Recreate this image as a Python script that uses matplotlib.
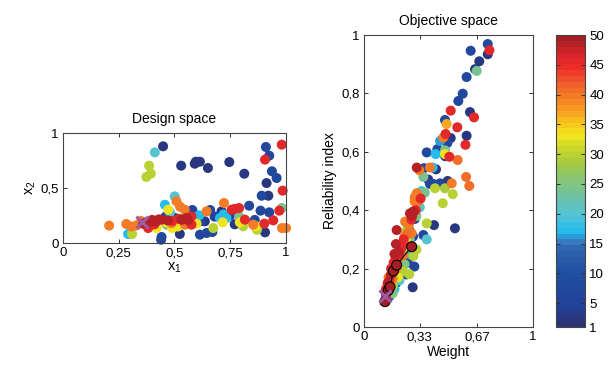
import numpy as np
import matplotlib
matplotlib.use("Agg")
import matplotlib.pyplot as plt
from matplotlib.colors import LinearSegmentedColormap, ListedColormap, Normalize

plt.rcParams['font.family'] = ['Liberation Sans', 'DejaVu Sans']
plt.rcParams['font.size'] = 9

# ---------------- data ----------------
# Design space: x1, x2, generation
ds_x1 = [0.449, 0.412, 0.386, 0.394, 0.374, 0.530, 0.596, 0.614, 0.591, 0.650, 0.746, 0.813,
         0.910, 0.925, 0.906, 0.981, 0.937, 0.958, 0.913, 0.985, 0.891, 0.921, 0.981, 0.970,
         0.925, 0.886, 0.835, 0.943, 0.903, 0.906, 0.982, 1.000, 0.816, 0.853, 0.865, 0.808,
         0.793, 0.790, 0.756, 0.790, 0.770, 0.722, 0.711, 0.733, 0.704, 0.674, 0.716, 0.644,
         0.636, 0.611, 0.614, 0.644, 0.670, 0.599, 0.576, 0.554, 0.531, 0.546, 0.509, 0.501,
         0.525, 0.457, 0.472, 0.480, 0.442, 0.419, 0.397, 0.374, 0.330, 0.307, 0.284, 0.207,
         0.292, 0.310, 0.442, 0.440, 0.524, 0.490, 0.515, 0.465, 0.420, 0.382, 0.487, 0.547,
         0.576, 0.600, 0.620, 0.680, 0.460, 0.500, 0.350, 0.660, 0.750, 0.770, 0.860, 0.720,
         0.580, 0.870, 0.520, 0.560, 0.490, 0.410, 0.460, 0.430, 0.470, 0.540, 0.360, 0.400]
ds_x2 = [0.879, 0.824, 0.703, 0.630, 0.600, 0.703, 0.739, 0.739, 0.721, 0.682, 0.736, 0.630,
         0.873, 0.794, 0.758, 0.894, 0.652, 0.591, 0.545, 0.476, 0.430, 0.430, 0.318, 0.294,
         0.279, 0.294, 0.339, 0.206, 0.176, 0.097, 0.136, 0.136, 0.212, 0.167, 0.152, 0.152,
         0.188, 0.242, 0.303, 0.318, 0.310, 0.364, 0.288, 0.227, 0.227, 0.136, 0.188, 0.288,
         0.197, 0.252, 0.076, 0.091, 0.100, 0.176, 0.242, 0.227, 0.212, 0.303, 0.379, 0.424,
         0.330, 0.348, 0.303, 0.280, 0.212, 0.197, 0.197, 0.188, 0.160, 0.150, 0.173, 0.158,
         0.082, 0.082, 0.055, 0.030, 0.082, 0.136, 0.150, 0.165, 0.136, 0.136, 0.180, 0.167,
         0.167, 0.220, 0.200, 0.240, 0.240, 0.230, 0.200, 0.300, 0.250, 0.170, 0.210, 0.260,
         0.300, 0.120, 0.220, 0.210, 0.200, 0.170, 0.190, 0.215, 0.205, 0.215, 0.175, 0.210]
ds_gen = [2, 20, 30, 30, 30, 2, 2, 2, 2, 2, 2, 2,
          7, 7, 46, 46, 7, 7, 2, 46, 7, 2, 24, 46,
          7, 7, 7, 46, 46, 2, 40, 40, 46, 40, 33, 30,
          33, 24, 46, 46, 46, 40, 2, 17, 17, 30, 33, 40,
          2, 17, 7, 7, 7, 33, 46, 49, 49, 40, 40, 20,
          40, 17, 33, 20, 49, 49, 49, 49, 40, 40, 40, 40,
          17, 30, 7, 7, 2, 33, 33, 25, 33, 46, 40, 40,
          46, 7, 5, 5, 7, 7, 40, 7, 7, 2, 7, 17,
          5, 30, 46, 49, 46, 46, 33, 49, 49, 49, 49, 49]
ds_best = (0.354, 0.19)

# Objective space: weight, reliability index, generation
os_w = [0.732, 0.742, 0.732, 0.631, 0.682, 0.657, 0.667, 0.607, 0.584, 0.558, 0.513, 0.627,
        0.651, 0.479, 0.489, 0.552, 0.483, 0.469, 0.513, 0.607, 0.450, 0.600, 0.493, 0.371,
        0.434, 0.424, 0.479, 0.479, 0.505, 0.554, 0.480, 0.312, 0.327, 0.355, 0.390, 0.406,
        0.426, 0.351, 0.380, 0.495, 0.604, 0.623,
        0.390, 0.410, 0.450, 0.519, 0.420, 0.479, 0.525, 0.466, 0.327, 0.312, 0.300, 0.340,
        0.360, 0.300, 0.315, 0.330, 0.292, 0.306, 0.272, 0.285, 0.262, 0.280, 0.300, 0.310,
        0.243, 0.371, 0.414, 0.538, 0.371, 0.351, 0.193, 0.282, 0.250, 0.260, 0.270, 0.240,
        0.235, 0.250, 0.270, 0.290,
        0.189, 0.210, 0.220, 0.240, 0.260, 0.310, 0.292, 0.298, 0.268, 0.288, 0.270, 0.250,
        0.230, 0.210, 0.200, 0.220, 0.240, 0.260, 0.180, 0.175, 0.190, 0.210, 0.230, 0.250,
        0.200, 0.160, 0.160, 0.170, 0.190, 0.210, 0.150, 0.140, 0.150, 0.170, 0.180, 0.130,
        0.140, 0.160, 0.130, 0.150, 0.170, 0.124, 0.130, 0.140,
        0.280, 0.290, 0.265, 0.255, 0.225, 0.205, 0.185, 0.165, 0.145, 0.320, 0.335]
os_r = [0.969, 0.948, 0.934, 0.946, 0.910, 0.883, 0.877, 0.856, 0.799, 0.774, 0.741, 0.736,
        0.718, 0.709, 0.695, 0.684, 0.661, 0.649, 0.647, 0.655, 0.637, 0.624, 0.630, 0.598,
        0.609, 0.592, 0.605, 0.592, 0.583, 0.572, 0.585, 0.546, 0.537, 0.544, 0.546, 0.546,
        0.540, 0.514, 0.505, 0.500, 0.514, 0.483,
        0.490, 0.490, 0.492, 0.492, 0.475, 0.475, 0.455, 0.424, 0.460, 0.458, 0.445, 0.465,
        0.460, 0.430, 0.420, 0.410, 0.395, 0.400, 0.389, 0.380, 0.361, 0.368, 0.370, 0.380,
        0.361, 0.355, 0.349, 0.338, 0.300, 0.315, 0.332, 0.321, 0.330, 0.345, 0.330, 0.310,
        0.300, 0.290, 0.300, 0.310,
        0.284, 0.280, 0.270, 0.265, 0.275, 0.265, 0.243, 0.207, 0.181, 0.136, 0.250, 0.240,
        0.245, 0.250, 0.230, 0.220, 0.215, 0.220, 0.250, 0.220, 0.200, 0.190, 0.190, 0.180,
        0.170, 0.200, 0.180, 0.165, 0.150, 0.160, 0.160, 0.150, 0.140, 0.140, 0.130, 0.130,
        0.120, 0.120, 0.110, 0.105, 0.115, 0.087, 0.095, 0.100,
        0.385, 0.395, 0.350, 0.320, 0.285, 0.255, 0.230, 0.185, 0.170, 0.430, 0.440]
os_gen = [8, 46, 2, 7, 2, 3, 24, 7, 7, 7, 46, 2,
          46, 8, 37, 46, 46, 40, 2, 2, 16, 46, 7, 7,
          8, 17, 24, 33, 46, 41, 3, 49, 40, 7, 40, 17,
          2, 24, 2, 2, 41, 41,
          7, 7, 7, 40, 30, 29, 30, 30, 24, 40, 40, 17,
          24, 40, 5, 20, 49, 46, 49, 49, 40, 46, 5, 25,
          40, 30, 2, 2, 20, 7, 49, 40, 30, 17, 7, 40,
          46, 33, 25, 7,
          49, 41, 46, 20, 30, 30, 30, 7, 30, 2, 17, 7,
          40, 46, 40, 17, 25, 5, 49, 46, 40, 20, 30, 8,
          33, 46, 49, 40, 7, 20, 46, 49, 38, 30, 17, 46,
          40, 7, 49, 10, 25, 49, 46, 5,
          49, 46, 40, 41, 46, 49, 46, 49, 40, 40, 46]
pareto_w = [0.124, 0.144, 0.154, 0.174, 0.193, 0.282]
pareto_r = [0.087, 0.126, 0.137, 0.192, 0.212, 0.275]
os_best = (0.127, 0.105)

# ---------------- colormap ----------------
anchors = [(0.00, '#2B3373'), (0.06, '#23409A'), (0.18, '#1F4FA0'), (0.26, '#2D64AE'),
           (0.29, '#3A7DC2'), (0.32, '#1EBBEE'), (0.38, '#52C3D6'), (0.44, '#6BC1A8'),
           (0.50, '#86C47A'), (0.56, '#A3C943'), (0.61, '#C6D52B'), (0.66, '#F4E61E'),
           (0.71, '#F9BF1D'), (0.77, '#F58D23'), (0.84, '#F15E2A'), (0.90, '#EE2B29'),
           (0.95, '#D3232A'), (1.00, '#A41E25')]
base = LinearSegmentedColormap.from_list('gen', anchors)
cmap = ListedColormap(base(np.linspace(0, 1, 50)))
norm = Normalize(vmin=1, vmax=50)

fig = plt.figure(figsize=(6.15, 3.65), dpi=100)

def style(ax):
    ax.tick_params(direction='in', top=True, right=True, length=3, width=0.7,
                   labelsize=9.5, pad=3, color='#333333')
    for s in ax.spines.values():
        s.set_linewidth(0.8)
        s.set_color('#444444')

DOT = 52

# ---- design space ----
ax1 = fig.add_axes([0.1024, 0.3342, 0.3626, 0.3014])
o = np.argsort(ds_gen, kind='stable')
ax1.scatter(np.array(ds_x1)[o], np.array(ds_x2)[o], c=np.array(ds_gen)[o], cmap=cmap, norm=norm,
            s=DOT, linewidths=0, zorder=2, clip_on=False)
ax1.plot([ds_best[0]], [ds_best[1]], marker='x', color='#9E5AA6', ms=9, mew=2.2, zorder=4)
ax1.set_xlim(0, 1)
ax1.set_ylim(0, 1)
ax1.set_xticks([0, 0.25, 0.5, 0.75, 1])
ax1.set_xticklabels(['0', '0,25', '0,5', '0,75', '1'])
ax1.set_yticks([0, 0.5, 1])
ax1.set_yticklabels(['0', '0,5', '1'])
ax1.set_xlabel(r'$\mathregular{x_1}$', fontsize=10.5, labelpad=1)
ax1.set_ylabel(r'$\mathregular{x_2}$', fontsize=10.5, labelpad=2)
ax1.set_title('Design space', fontsize=10, pad=7)
style(ax1)

# ---- objective space ----
ax2 = fig.add_axes([0.5919, 0.1041, 0.2748, 0.8])
o = np.argsort(os_gen, kind='stable')
ax2.scatter(np.array(os_w)[o], np.array(os_r)[o], c=np.array(os_gen)[o], cmap=cmap, norm=norm,
            s=DOT, linewidths=0, zorder=2)
ax2.plot(pareto_w, pareto_r, color='black', lw=0.8, zorder=3)
ax2.scatter(pareto_w, pareto_r, c=[50] * len(pareto_w), cmap=cmap, norm=norm, s=DOT,
            edgecolors='black', linewidths=0.8, zorder=4)
ax2.plot([os_best[0]], [os_best[1]], marker='x', color='#9E5AA6', ms=9, mew=2.2, zorder=5)
ax2.set_xlim(0, 1)
ax2.set_ylim(0, 1)
ax2.set_xticks([0, 0.33, 0.67, 1])
ax2.set_xticklabels(['0', '0,33', '0,67', '1'])
ax2.set_yticks([0, 0.2, 0.4, 0.6, 0.8, 1])
ax2.set_yticklabels(['0', '0,2', '0,4', '0,6', '0,8', '1'])
ax2.set_xlabel('Weight', fontsize=10, labelpad=1)
ax2.set_ylabel('Reliability index', fontsize=10, labelpad=3)
ax2.set_title('Objective space', fontsize=10, pad=7)
style(ax2)

# ---- colorbar ----
cax = fig.add_axes([0.9041, 0.1041, 0.0472, 0.8])
sm = matplotlib.cm.ScalarMappable(norm=norm, cmap=cmap)
cb = fig.colorbar(sm, cax=cax)
cb.set_ticks([1, 5, 10, 15, 20, 25, 30, 35, 40, 45, 50])
cb.ax.tick_params(direction='in', length=3, width=0.7, labelsize=9.5, pad=3, left=True, color='#333333')
cb.outline.set_linewidth(0.8)
cb.outline.set_edgecolor('#444444')

fig.savefig('out.png', dpi=100)
